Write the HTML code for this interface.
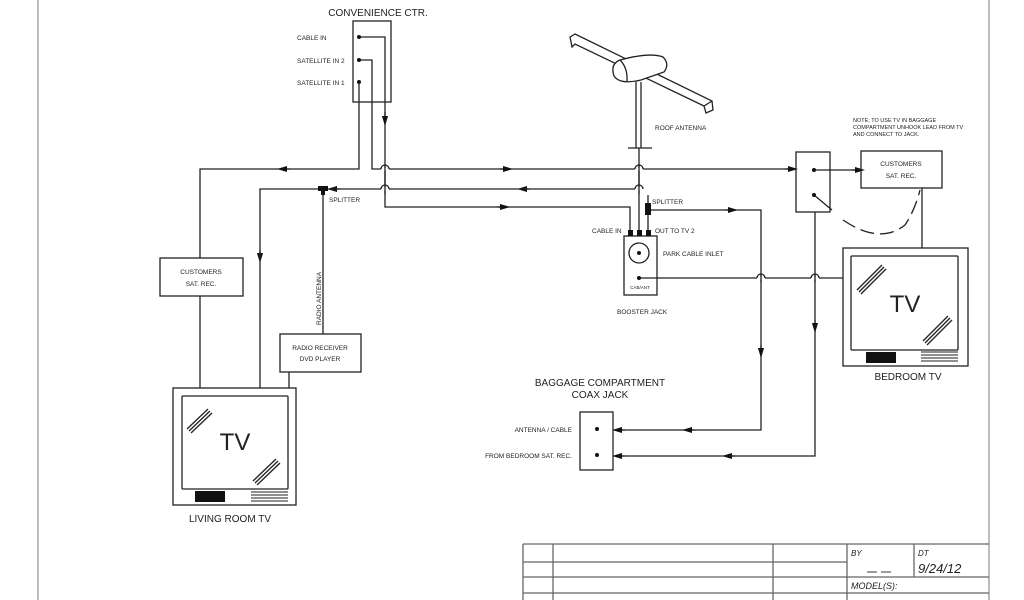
<!DOCTYPE html>
<html><head><meta charset="utf-8"><style>
html,body{margin:0;padding:0;background:#fff}
svg{display:block}
text{font-family:"Liberation Sans",Arial,sans-serif;fill:#222}
</style></head><body>
<svg width="1024" height="600" viewBox="0 0 1024 600" xmlns="http://www.w3.org/2000/svg">
<defs>
<marker id="a" viewBox="0 0 10 10" refX="5" refY="5" markerWidth="8" markerHeight="8" orient="auto"><path d="M0,2 L10,5 L0,8z" fill="#111"/></marker>
</defs>
<g stroke="#222" stroke-width="1.3" fill="none">
<line x1="38" y1="0" x2="38" y2="600" stroke="#999"/>
<line x1="989" y1="0" x2="989" y2="600" stroke="#999"/>
<rect x="353" y="21" width="38" height="81"/>
<polyline points="359,37 385,37 385,207 630,207 630,232"/>
<polyline points="359,60 372,60 372,169 796,169"/>
<polyline points="359,82 359,169 200,169 200,258"/>
<line x1="200" y1="296" x2="200" y2="388"/>
<rect x="160" y="258" width="83" height="38"/>
<path d="M385,112 L385,121" marker-end="url(#a)"/>
<path d="M290,169 L282,169" marker-end="url(#a)"/>
<path d="M500,169 L508,169" marker-end="url(#a)"/>
<path d="M785,169 L793,169" marker-end="url(#a)"/>
<path d="M497,207 L505,207" marker-end="url(#a)"/>
<path d="M340,189 L332,189" marker-end="url(#a)"/>
<path d="M530,189 L522,189" marker-end="url(#a)"/>
<path d="M260,250 L260,258" marker-end="url(#a)"/>
<polyline points="640,189 260,189 260,388"/>
<line x1="323" y1="189" x2="323" y2="334"/>
<rect x="280" y="334" width="81" height="38"/>
<line x1="289" y1="372" x2="289" y2="388"/>
<rect x="173" y="388" width="123" height="117"/>
<rect x="182" y="396" width="106" height="93" rx="1"/>
<line x1="187" y1="429" x2="208" y2="409"/><line x1="189" y1="431" x2="210" y2="411"/><line x1="191" y1="433" x2="212" y2="413"/>
<line x1="253" y1="481" x2="276" y2="459"/><line x1="255" y1="483" x2="278" y2="461"/><line x1="257" y1="485" x2="280" y2="463"/>
<polygon points="570,37 575,34 712,101 713,110 706,113 704,106 575,44 572,47" fill="#fff"/>
<line x1="704" y1="106" x2="712" y2="101"/>
<path d="M620,60 Q650,52 663,57 Q670,64 664,72 L641,80 Q620,85 614,76 Q610,64 620,60z" fill="#fff"/>
<path d="M620,60 Q628,68 627,82"/>
<line x1="636" y1="82" x2="636" y2="148"/><line x1="641" y1="82" x2="641" y2="148"/>
<line x1="628" y1="148" x2="652" y2="148"/>
<line x1="639" y1="148" x2="639" y2="232"/>
<line x1="648" y1="195" x2="648" y2="232"/>
<polyline points="650,210 761,210 761,430 620,430"/>
<path d="M725,210 L733,210" marker-end="url(#a)"/>
<path d="M761,345 L761,353" marker-end="url(#a)"/>
<path d="M695,430 L687,430" marker-end="url(#a)"/>
<path d="M625,430 L617,430" marker-end="url(#a)"/>
<rect x="624" y="236" width="33" height="59"/>
<circle cx="639" cy="253" r="10"/>
<polyline points="639,278 843,278"/>
<rect x="796" y="152" width="34" height="60"/>
<line x1="814" y1="170" x2="861" y2="170"/>
<path d="M852,170 L860,170" marker-end="url(#a)"/>
<line x1="814" y1="195" x2="832" y2="210"/>
<rect x="861" y="151" width="81" height="37"/>
<path d="M843,220 Q880,245 905,225 Q915,210 920,190" stroke-dasharray="14,6"/>
<line x1="922" y1="188" x2="922" y2="248"/>
<polyline points="815,212 815,456 620,456"/>
<path d="M815,320 L815,328" marker-end="url(#a)"/>
<path d="M735,456 L727,456" marker-end="url(#a)"/>
<path d="M625,456 L617,456" marker-end="url(#a)"/>
<rect x="843" y="248" width="125" height="118"/>
<rect x="851" y="256" width="107" height="94" rx="1"/>
<line x1="857" y1="290" x2="882" y2="265"/><line x1="859" y1="292" x2="884" y2="267"/><line x1="861" y1="294" x2="886" y2="269"/>
<line x1="923" y1="341" x2="948" y2="316"/><line x1="925" y1="343" x2="950" y2="318"/><line x1="927" y1="345" x2="952" y2="320"/>
<rect x="580" y="412" width="33" height="58"/>
<g stroke="#666">
<line x1="523" y1="544" x2="989" y2="544"/>
<line x1="523" y1="562" x2="847" y2="562"/>
<line x1="523" y1="577" x2="989" y2="577"/>
<line x1="523" y1="593" x2="989" y2="593"/>
<line x1="523" y1="544" x2="523" y2="600"/>
<line x1="553" y1="544" x2="553" y2="600"/>
<line x1="773" y1="544" x2="773" y2="600"/>
<line x1="847" y1="544" x2="847" y2="600"/>
<line x1="914" y1="544" x2="914" y2="577"/>
<line x1="867" y1="572" x2="877" y2="572"/><line x1="881" y1="572" x2="891" y2="572"/>
</g>
</g>
<!-- hops -->
<g fill="none" stroke-width="1.3">
<g stroke="#fff" stroke-width="3">
<line x1="381" y1="169" x2="389" y2="169"/><line x1="381" y1="189" x2="389" y2="189"/>
<line x1="635" y1="169" x2="643" y2="169"/><line x1="635" y1="189" x2="643" y2="189"/>
<line x1="757" y1="278" x2="765" y2="278"/><line x1="811" y1="278" x2="819" y2="278"/>
</g>
<g stroke="#222">
<path d="M381,169 A4,4 0 0 1 389,169"/><path d="M381,189 A4,4 0 0 1 389,189"/>
<path d="M635,169 A4,4 0 0 1 643,169"/><path d="M635,189 A4,4 0 0 1 643,189"/>
<path d="M757,278 A4,4 0 0 1 765,278"/><path d="M811,278 A4,4 0 0 1 819,278"/>
<line x1="385" y1="164" x2="385" y2="194"/><line x1="639" y1="164" x2="639" y2="194"/>
<line x1="761" y1="274" x2="761" y2="282"/><line x1="815" y1="274" x2="815" y2="282"/>
</g>
</g>
<g fill="#111">
<circle cx="359" cy="37" r="2"/><circle cx="359" cy="60" r="2"/><circle cx="359" cy="82" r="2"/>
<circle cx="639" cy="278" r="2"/><circle cx="639" cy="253" r="2"/>
<circle cx="814" cy="170" r="2"/><circle cx="814" cy="195" r="2"/>
<circle cx="597" cy="429" r="2"/><circle cx="597" cy="455" r="2"/>
<rect x="318" y="186" width="10" height="5"/><rect x="321" y="189" width="4" height="6"/>
<rect x="645" y="203" width="6" height="12"/>
<rect x="628" y="230" width="5" height="6"/><rect x="637" y="230" width="5" height="6"/><rect x="646" y="230" width="5" height="6"/>
<rect x="195" y="491" width="30" height="11"/>
<rect x="866" y="352" width="30" height="11"/>
</g>
<g stroke="#222" stroke-width="1">
<line x1="251" y1="492" x2="288" y2="492"/><line x1="251" y1="495" x2="288" y2="495"/><line x1="251" y1="498" x2="288" y2="498"/><line x1="251" y1="501" x2="288" y2="501"/>
<line x1="921" y1="352" x2="958" y2="352"/><line x1="921" y1="355" x2="958" y2="355"/><line x1="921" y1="358" x2="958" y2="358"/><line x1="921" y1="361" x2="958" y2="361"/>
</g>
<text x="378" y="16" font-size="10" text-anchor="middle">CONVENIENCE CTR.</text>
<g font-size="6.5">
<text x="297" y="40">CABLE IN</text>
<text x="297" y="63">SATELLITE IN 2</text>
<text x="297" y="85">SATELLITE IN 1</text>
<text x="329" y="202">SPLITTER</text>
<text x="201" y="274" text-anchor="middle">CUSTOMERS</text>
<text x="201" y="286" text-anchor="middle">SAT. REC.</text>
<text x="320" y="350" text-anchor="middle">RADIO RECEIVER</text>
<text x="320" y="361" text-anchor="middle">DVD PLAYER</text>
<text transform="translate(321,325) rotate(-90)">RADIO ANTENNA</text>
<text x="655" y="130">ROOF ANTENNA</text>
<text x="652" y="204">SPLITTER</text>
<text x="592" y="233">CABLE IN</text>
<text x="655" y="233">OUT TO TV 2</text>
<text x="663" y="256">PARK CABLE INLET</text>
<text x="640" y="289" font-size="4.5" text-anchor="middle">CAB/ANT</text>
<text x="617" y="314">BOOSTER JACK</text>
<text x="901" y="166" text-anchor="middle">CUSTOMERS</text>
<text x="901" y="178" text-anchor="middle">SAT. REC.</text>
<text x="853" y="122" font-size="5.5">NOTE; TO USE TV IN BAGGAGE</text>
<text x="853" y="129" font-size="5.5">COMPARTMENT UNHOOK LEAD FROM TV</text>
<text x="853" y="136" font-size="5.5">AND CONNECT TO JACK.</text>
<text x="572" y="432" text-anchor="end">ANTENNA / CABLE</text>
<text x="572" y="458" text-anchor="end">FROM BEDROOM SAT. REC.</text>
</g>
<text x="600" y="386" font-size="10" text-anchor="middle">BAGGAGE COMPARTMENT</text>
<text x="600" y="398" font-size="10" text-anchor="middle">COAX JACK</text>
<text x="235" y="450" font-size="24" text-anchor="middle">TV</text>
<text x="905" y="312" font-size="24" text-anchor="middle">TV</text>
<text x="230" y="522" font-size="10" text-anchor="middle">LIVING ROOM TV</text>
<text x="908" y="380" font-size="10" text-anchor="middle">BEDROOM TV</text>
<g font-style="italic" fill="#333">
<text x="851" y="556" font-size="8">BY</text>
<text x="918" y="556" font-size="8">DT</text>
<text x="918" y="573" font-size="13">9/24/12</text>
<text x="851" y="589" font-size="9">MODEL(S):</text>
</g>
</svg>
</body></html>
